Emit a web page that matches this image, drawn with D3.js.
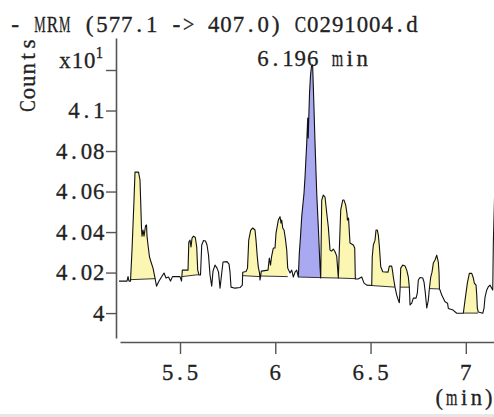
<!DOCTYPE html>
<html>
<head>
<meta charset="utf-8">
<script src="https://cdn.jsdelivr.net/npm/d3@7"></script>
<style>
  html, body { margin: 0; padding: 0; background: #fff; overflow: hidden; }
  svg { display: block; }
</style>
</head>
<body>
<svg id="chart" width="494" height="417"></svg>
<script>
// ---- Chromatogram: MRM transition 577.1 -> 407.0 ----
const title = "- MRM (577.1 -> 407.0) C0291004.d";
const yAxisTitle = "Counts";
const yMultiplier = "x10";
const yMultiplierExp = "1";
const xAxisUnit = "(min)";

const xTicks = [5.5, 6, 6.5, 7];
const xTickLabels = ["5.5", "6", "6.5", "7"];
const yTicks = [4, 4.02, 4.04, 4.06, 4.08, 4.1, 4.12];
const yTickLabels = ["4", "4.02", "4.04", "4.06", "4.08", "4.1", ""];

// Acquisition time (min)
const times = [
  5.1798,5.2218,5.2271,5.2323,5.2402,5.2480,5.2585,5.2638,5.2822,5.2900,
  5.2979,5.3005,5.3058,5.3110,5.3189,5.3242,5.3268,5.3320,5.3399,5.3478,
  5.3583,5.3688,5.3766,5.3898,5.4029,5.4160,5.4265,5.4396,5.4501,5.4606,
  5.5000,5.5079,5.5121,5.5420,5.5462,5.5525,5.5577,5.5630,5.5709,5.5803,
  5.5877,5.5929,5.5997,5.6076,5.6139,5.6234,5.6338,5.6417,5.6496,5.6575,
  5.6664,5.6732,5.6837,5.6942,5.7021,5.7100,5.7178,5.7257,5.7467,5.7572,
  5.7625,5.7677,5.7887,5.8149,5.8270,5.8291,5.8464,5.8543,5.8606,5.8711,
  5.8816,5.8937,5.8989,5.9057,5.9110,5.9173,5.9199,5.9267,5.9619,5.9687,
  5.9750,5.9803,5.9897,5.9987,6.0039,6.0160,6.0249,6.0301,6.0338,6.0391,
  6.0459,6.0527,6.0601,6.0653,6.0774,6.0863,6.0947,6.1036,6.1126,6.1210,
  6.1262,6.1325,6.1388,6.1509,6.1561,6.1651,6.1703,6.1729,6.1761,6.1798,
  6.1850,6.1903,6.1960,6.2008,6.2086,6.2175,6.2259,6.2349,6.2385,
  6.2438,6.2522,6.2611,6.2700,6.2784,6.2874,6.2952,6.3047,6.3136,6.3225,6.3309,
  6.3435,6.3540,6.3608,6.3697,6.3766,6.3787,6.3845,6.3897,6.3923,6.4097,
  6.4170,6.4202,6.4343,6.4538,6.4658,6.4800,6.5062,
  6.5089,6.5147,6.5236,6.5288,6.5357,6.5409,6.5462,6.5535,6.5640,6.5918,
  6.5986,6.6112,6.6165,6.6196,6.6285,6.6374,6.6458,6.6510,6.6548,6.6584,
  6.6689,6.6810,6.6900,6.6984,6.7036,6.7073,6.7162,6.7246,6.7388,6.7456,
  6.7509,6.7598,6.7740,6.7808,6.7876,6.7950,6.8033,6.8086,6.8159,6.8227,
  6.8296,6.8385,6.8474,6.8558,6.8595,6.8616,6.8647,6.8737,6.8910,6.9041,
  6.9083,6.9330,6.9524,6.9871,6.9960,7.0081,7.0186,7.0312,7.0396,7.0448,
  7.0537,7.0574,7.0605,7.0658,7.0889,7.0957,7.1010,7.1100,7.1183,7.1272,
  7.1362,7.1414,7.1446,7.1600
];

// Abundance (counts x10^1)
const counts = [
  4.0158,4.0158,4.0180,4.0158,4.0158,4.0311,4.0558,4.0696,4.0696,4.0657,
  4.0420,4.0380,4.0410,4.0380,4.0430,4.0435,4.0380,4.0336,4.0277,4.0252,
  4.0222,4.0173,4.0133,4.0158,4.0178,4.0198,4.0173,4.0178,4.0158,4.0180,
  4.0180,4.0158,4.0212,4.0212,4.0351,4.0360,4.0326,4.0370,4.0380,4.0373,
  4.0326,4.0212,4.0188,4.0188,4.0336,4.0358,4.0356,4.0336,4.0286,4.0188,
  4.0133,4.0207,4.0237,4.0222,4.0202,4.0123,4.0188,4.0252,4.0254,4.0242,
  4.0202,4.0128,4.0123,4.0126,4.0138,4.0202,4.0205,4.0222,4.0360,4.0410,
  4.0420,4.0410,4.0360,4.0277,4.0227,4.0198,4.0163,4.0207,4.0212,4.0272,
  4.0237,4.0277,4.0321,4.0321,4.0395,4.0459,4.0476,4.0444,4.0459,4.0420,
  4.0410,4.0370,4.0311,4.0222,4.0198,4.0212,4.0178,4.0202,4.0212,4.0178,
  4.0296,4.0380,4.0476,4.0593,4.0672,4.0839,4.0963,4.0864,4.0973,4.1086,
  4.1175,4.1220,4.1225,4.1086,4.0839,4.0593,4.0425,4.0227,4.0173,
  4.0558,4.0583,4.0573,4.0494,4.0425,4.0311,4.0306,4.0316,4.0303,4.0281,4.0173,
  4.0509,4.0558,4.0558,4.0533,4.0489,4.0459,4.0469,4.0385,4.0346,4.0336,
  4.0321,4.0168,4.0168,4.0178,4.0148,4.0138,4.0136,
  4.0277,4.0336,4.0360,4.0410,4.0410,4.0385,4.0331,4.0229,4.0204,4.0202,
  4.0232,4.0232,4.0202,4.0178,4.0128,4.0089,4.0064,4.0051,4.0114,4.0222,
  4.0237,4.0232,4.0212,4.0178,4.0128,4.0040,4.0049,4.0074,4.0074,4.0099,
  4.0163,4.0176,4.0173,4.0153,4.0099,4.0025,4.0064,4.0119,4.0178,4.0202,
  4.0247,4.0262,4.0286,4.0252,4.0198,4.0119,4.0114,4.0089,4.0056,4.0049,
  4.0023,4.0015,3.9999,3.9999,4.0064,4.0148,4.0196,4.0196,4.0173,4.0148,
  4.0138,4.0089,4.0025,4.0005,3.9999,4.0025,4.0079,4.0114,4.0130,4.0138,
  4.0123,4.0114,4.0351,4.0900
];

// Integrated peaks: start/end time and baseline level at each end
const peakStart = [5.2406, 5.5096, 5.8285, 5.9230, 6.1210, 6.2385, 6.3309, 6.5062, 6.6553, 6.8087, 6.9871];
const peakEnd   = [5.3694, 5.5990, 5.9186, 6.0653, 6.2385, 6.3309, 6.4202, 6.6285, 6.7036, 6.8616, 7.0640];
const baseStart = [4.0165, 4.0180, 4.0185, 4.0183, 4.0178, 4.0175, 4.0173, 4.0136, 4.0128, 4.0121, 4.0000];
const baseEnd   = [4.0170, 4.0190, 4.0180, 4.0180, 4.0175, 4.0173, 4.0170, 4.0128, 4.0128, 4.0119, 4.0000];
const targetPeak = 4;   // the quantified peak, shaded blue

const COLORS = { other: "#fbf6b2", target: "#a9a9f2", trace: "#111", axis: "#555", text: "#222" };
const FONT = "'Liberation Serif', 'DejaVu Serif', serif";
const FONT_SIZE = 23.5;
const CELL = 12.4;      // fixed advance per character (half-width grid)

const svg = d3.select("#chart");
const x = d3.scaleLinear().domain([5.185, 7.148]).range([120, 494]);
const y = d3.scaleLinear().domain([3.9877, 4.1358]).range([338, 38]);

const pts = times.map((t, i) => [t, counts[i]]);

function valueAt(t) {
  for (let i = 0; i < times.length - 1; i++) {
    if (t >= times[i] && t <= times[i + 1]) {
      const f = (t - times[i]) / (times[i + 1] - times[i] || 1);
      return counts[i] + f * (counts[i + 1] - counts[i]);
    }
  }
  return counts[counts.length - 1];
}

// Draws a string on a fixed character grid; wide glyphs are narrowed to fit their cell.
function gridText(parent, str, px, py, opts = {}) {
  const size = opts.size || FONT_SIZE;
  const cell = opts.cell || CELL;
  const anchor = opts.anchor || "start";
  const n = str.length;
  const offset = anchor === "end" ? -n * cell : anchor === "middle" ? -n * cell / 2 : 0;
  const g = parent.append("g")
    .attr("transform", `translate(${px},${py})` + (opts.rotate ? ` rotate(${opts.rotate})` : ""));
  [...str].forEach((ch, i) => {
    if (ch === " ") return;
    const cx = offset + (i + 0.5) * cell;
    const t = g.append("text")
      .attr("font-family", FONT)
      .attr("font-size", size + "px")
      .attr("fill", COLORS.text)
      .attr("stroke", COLORS.text)
      .attr("stroke-width", 0.3)
      .attr("text-anchor", "middle")
      .text(ch);
    const w = t.node().getComputedTextLength();
    const sx = w > cell * 0.92 ? (cell * 0.92) / w : 1;
    t.attr("transform", `translate(${cx},0) scale(${sx},1)`);
  });
  return g;
}

const line = d3.line().x(d => x(d[0])).y(d => y(d[1]));

// Peak areas between trace and drawn baseline
const areas = svg.append("g");
peakStart.forEach((ts, k) => {
  const te = peakEnd[k];
  const poly = [[ts, valueAt(ts)]]
    .concat(pts.filter(p => p[0] > ts && p[0] < te))
    .concat([[te, valueAt(te)], [te, baseEnd[k]], [ts, baseStart[k]]]);
  areas.append("path")
    .attr("d", line(poly) + "Z")
    .attr("fill", k === targetPeak ? COLORS.target : COLORS.other)
    .attr("stroke", "none");
  areas.append("path")
    .attr("d", line([[ts, baseStart[k]], [te, baseEnd[k]]]))
    .attr("fill", "none")
    .attr("stroke", "#333")
    .attr("stroke-width", 1);
});

// Signal trace
svg.append("path")
  .attr("d", line(pts))
  .attr("fill", "none")
  .attr("stroke", COLORS.trace)
  .attr("stroke-width", 1.1)
  .attr("stroke-linejoin", "round");

// Y axis
const yAxis = svg.append("g")
  .attr("transform", "translate(116,0)")
  .call(d3.axisLeft(y).tickValues(yTicks).tickFormat("").tickSize(10).tickSizeOuter(0));
yAxis.select(".domain").attr("stroke", COLORS.axis).attr("stroke-width", 1.6);
yAxis.selectAll(".tick line").attr("stroke", COLORS.axis).attr("stroke-width", 1.4);
yTicks.forEach((v, i) => {
  if (yTickLabels[i]) gridText(svg, yTickLabels[i], 105, y(v) + 7.5, { anchor: "end" });
});

// X axis
const xAxis = svg.append("g")
  .attr("transform", "translate(0,342)")
  .call(d3.axisBottom(x).tickValues(xTicks).tickFormat("").tickSize(12).tickSizeOuter(0));
xAxis.select(".domain").attr("stroke", COLORS.axis).attr("stroke-width", 1.6);
xAxis.selectAll(".tick line").attr("stroke", COLORS.axis).attr("stroke-width", 1.4);
xTicks.forEach((v, i) => gridText(svg, xTickLabels[i], x(v), 380, { anchor: "middle" }));

// Title
gridText(svg, title, 9, 32);

// Axis titles
gridText(svg, yAxisTitle, 35, 75, { anchor: "middle", rotate: -90 });
gridText(svg, yMultiplier, 96, 68, { anchor: "end" });
gridText(svg, yMultiplierExp, 95.5, 58, { size: 16, cell: 8 });
gridText(svg, xAxisUnit, 495, 405, { anchor: "end", size: 22.5 });

// Retention-time label on the quantified peak
const tgt = pts.filter(p => p[0] >= peakStart[targetPeak] && p[0] <= peakEnd[targetPeak]);
const apex = tgt.reduce((a, b) => (b[1] > a[1] ? b : a));
gridText(svg, `${d3.format(".3f")(apex[0])} min`, x(apex[0]), y(apex[1]) + 1, { anchor: "middle" });

// Window edge strip
svg.append("rect").attr("x", 0).attr("y", 414).attr("width", 494).attr("height", 3).attr("fill", "#e6e6e6");
</script>
</body>
</html>
